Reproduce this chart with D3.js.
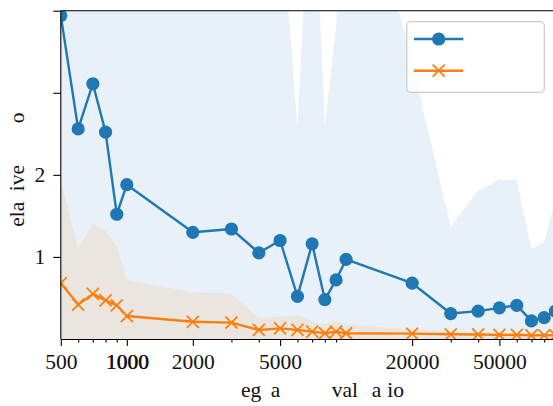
<!DOCTYPE html>
<html>
<head>
<meta charset="utf-8">
<script src="https://cdn.jsdelivr.net/npm/d3@7"></script>
<style>
  body { margin: 0; background: #fff; }
  svg { display: block; }
  .axis text { font-family: "Liberation Serif", "Times New Roman", serif; font-size: 21.5px; fill: #111; }
  .axis line, .axis path { stroke: #000; stroke-width: 1.1px; }
  .lab { font-family: "Liberation Serif", "Times New Roman", serif; font-size: 21.5px; fill: #111; }
</style>
</head>
<body>
<script>
  // sample sizes on the x axis (log)
  const sizes = [500, 600, 700, 800, 900, 1000, 2000, 3000, 4000, 5000, 6000, 7000, 8000, 9000,
                 10000, 20000, 30000, 40000, 50000, 60000, 70000, 80000, 90000];

  // blue series (circles) and its band
  const blueMean  = [3.94, 2.56, 3.11, 2.52, 1.52, 1.88, 1.30, 1.34, 1.05, 1.20, 0.52, 1.16, 0.48, 0.72,
                     0.97, 0.68, 0.31, 0.34, 0.38, 0.41, 0.22, 0.26, 0.34];
  const blueUpper = [8.5, 6.8, 7.5, 6.5, 5.5, 5.8, 5.0, 5.2, 4.6, 5.3, 2.59, 6.1, 2.6, 3.8,
                     6.5, 3.37, 1.37, 1.81, 1.94, 1.94, 1.10, 1.18, 1.70];
  const blueLower = [-0.6, -1.7, -1.3, -1.5, -2.5, -2.0, -2.4, -2.5, -2.5, -2.9, -1.6, -3.8, -1.6, -2.4,
                     -4.6, -2.0, -0.75, -1.1, -1.2, -1.1, -0.7, -0.7, -1.0];

  // orange series (crosses) and its band
  const orangeMean  = [0.68, 0.42, 0.55, 0.47, 0.41, 0.28, 0.21, 0.20, 0.11, 0.13, 0.11, 0.09, 0.07, 0.09,
                       0.07, 0.065, 0.057, 0.055, 0.05, 0.05, 0.045, 0.045, 0.045];
  const orangeUpper = [1.94, 1.10, 1.40, 1.32, 1.12, 0.72, 0.57, 0.55, 0.25, 0.27, 0.29, 0.21, 0.18, 0.22,
                       0.18, 0.12, 0.09, 0.08, 0.08, 0.07, 0.065, 0.06, 0.06];
  const orangeLower = [-0.58, -0.26, -0.30, -0.38, -0.30, -0.16, -0.15, -0.15, -0.03, -0.01, -0.07, -0.03, -0.04, -0.04,
                       -0.04, -0.01, -0.01, -0.02, -0.02, -0.01, -0.01, -0.01, -0.01];

  // ticks
  const xMajor = [500, 1000, 2000, 5000, 20000, 50000];
  const xMinor = [600, 700, 800, 900, 3000, 4000, 6000, 7000, 8000, 9000, 30000, 40000, 60000, 70000, 80000, 90000];
  const yTicks = [1, 2, 3, 4];
  const yTickLabels = {1: "1", 2: "2", 3: "", 4: ""};

  const blue = "#1f77b4", orange = "#ff7f0e";
  const W = 553, H = 406;
  const mLeft = 60.8, mTop = 10.7, mBottom = 339;
  const mRight = mLeft + 219.3 * Math.log10(100000 / 500);

  const x = d3.scaleLog().domain([500, 100000]).range([mLeft, mRight]);
  const y = d3.scaleLinear().domain([0, 4]).range([mBottom, mTop]);

  const svg = d3.select("body").append("svg").attr("width", W).attr("height", H);

  svg.append("clipPath").attr("id", "plot")
    .append("rect").attr("x", mLeft).attr("y", mTop).attr("width", mRight - mLeft).attr("height", mBottom - mTop);

  const plot = svg.append("g").attr("clip-path", "url(#plot)");

  const rows = sizes.map((s, i) => ({
    s: s, bm: blueMean[i], bu: blueUpper[i], bl: blueLower[i],
    om: orangeMean[i], ou: orangeUpper[i], ol: orangeLower[i]
  }));

  const bandB = d3.area().x(d => x(d.s)).y0(d => y(d.bl)).y1(d => y(d.bu));
  const bandO = d3.area().x(d => x(d.s)).y0(d => y(d.ol)).y1(d => y(d.ou));
  plot.append("path").attr("d", bandB(rows)).attr("fill", blue).attr("fill-opacity", 0.1);
  plot.append("path").attr("d", bandO(rows)).attr("fill", orange).attr("fill-opacity", 0.1);

  const lineB = d3.line().x(d => x(d.s)).y(d => y(d.bm));
  const lineO = d3.line().x(d => x(d.s)).y(d => y(d.om));

  plot.append("path").attr("d", lineB(rows)).attr("fill", "none")
    .attr("stroke", blue).attr("stroke-width", 2.4).attr("stroke-linejoin", "round");
  plot.selectAll("circle.b").data(rows).join("circle").attr("class", "b")
    .attr("cx", d => x(d.s)).attr("cy", d => y(d.bm)).attr("r", 6.6).attr("fill", blue);

  plot.append("path").attr("d", lineO(rows)).attr("fill", "none")
    .attr("stroke", orange).attr("stroke-width", 2.4).attr("stroke-linejoin", "round");
  const cross = "M-6,-6L6,6M-6,6L6,-6";
  plot.selectAll("path.o").data(rows).join("path").attr("class", "o")
    .attr("transform", d => `translate(${x(d.s)},${y(d.om)})`)
    .attr("d", cross).attr("stroke", orange).attr("stroke-width", 1.8).attr("fill", "none");

  // axes
  svg.append("g").attr("class", "axis").attr("transform", `translate(0,${mBottom})`)
    .call(d3.axisBottom(x).tickValues(xMinor).tickSize(3.5).tickSizeOuter(0).tickFormat(""))
    .call(g => g.select(".domain").remove());
  const xAx = svg.append("g").attr("class", "axis").attr("transform", `translate(0,${mBottom})`)
    .call(d3.axisBottom(x).tickValues(xMajor).tickSize(7).tickSizeOuter(0).tickPadding(8)
      .tickFormat(d => String(d)));
  // the 1000 label is printed twice in the original, which makes it look bolder
  xAx.selectAll(".tick").filter(d => d === 1000).each(function () {
    d3.select(this).append("text").attr("fill", "#111").attr("y", 15).attr("x", 0.3)
      .attr("dy", "0.71em").text("1000");
  });

  svg.append("g").attr("class", "axis").attr("transform", `translate(${mLeft},0)`)
    .call(d3.axisLeft(y).tickValues(yTicks).tickSize(7.5).tickSizeOuter(0).tickPadding(8)
      .tickFormat(d => yTickLabels[d]))
    .call(g => g.select(".domain").attr("d", `M0,${mTop}V${mBottom}`));

  // top spine
  svg.append("line").attr("x1", mLeft).attr("x2", W).attr("y1", mTop).attr("y2", mTop)
    .attr("stroke", "#000").attr("stroke-width", 1.1);

  // legend
  const leg = svg.append("g");
  leg.append("rect").attr("x", 406.7).attr("y", 21.7).attr("width", 137.6).attr("height", 70.6)
    .attr("rx", 4).attr("fill", "#fff").attr("fill-opacity", 0.8)
    .attr("stroke", "#cccccc").attr("stroke-width", 1.3);
  [[blue, 39], [orange, 70.7]].forEach(([c, ly], i) => {
    leg.append("line").attr("x1", 414).attr("x2", 463.3).attr("y1", ly).attr("y2", ly)
      .attr("stroke", c).attr("stroke-width", 2.4);
    if (i === 0) {
      leg.append("circle").attr("cx", 438.7).attr("cy", ly).attr("r", 6.6).attr("fill", c);
    } else {
      leg.append("path").attr("transform", `translate(438.7,${ly})`).attr("d", cross)
        .attr("stroke", c).attr("stroke-width", 1.8).attr("fill", "none");
    }
  });

  // axis titles (only the glyphs that show in the picture)
  const xTitle = [["eg", 241], ["a", 270.7], ["val", 331.7], ["a", 371.7], ["io", 387.3]];
  xTitle.forEach(([t, px]) => {
    svg.append("text").attr("class", "lab").attr("x", px).attr("y", 396.7).text(t);
  });
  const yTitle = [["ela", 226.7, "start"], ["ive", 165, "end"], ["o", 123.3, "start"]];
  yTitle.forEach(([t, py, anchor]) => {
    svg.append("text").attr("class", "lab").attr("text-anchor", anchor)
      .attr("transform", `translate(24,${py}) rotate(-90)`).text(t);
  });
</script>
</body>
</html>
